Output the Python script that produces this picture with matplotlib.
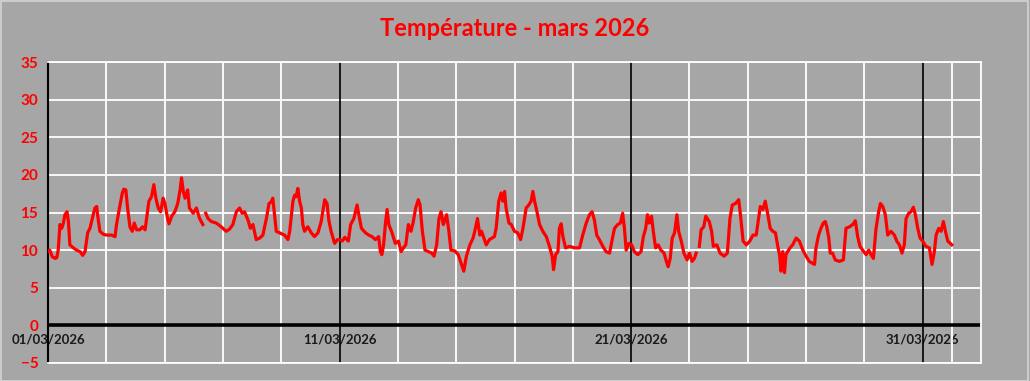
import matplotlib
matplotlib.use("Agg")
import matplotlib.pyplot as plt
import matplotlib.dates as mdates
import numpy as np
import pandas as pd
from matplotlib.patches import Rectangle

# ---- data ----
start_date = "2026-03-01"
end_date = "2026-04-02"
title = "Température - mars 2026"
label_dates = ["2026-03-01", "2026-03-11", "2026-03-21", "2026-03-31"]
y_ticks = [-5, 0, 5, 10, 15, 20, 25, 30, 35]

day_offset = [
    0.00, 0.06, 0.15, 0.25, 0.30, 0.35, 0.41, 0.47, 0.53, 0.58, 0.65, 0.70, 0.75, 0.87, 0.98,
    1.10, 1.19, 1.27, 1.36, 1.44, 1.55, 1.61, 1.67, 1.70, 1.78, 1.90, 2.01, 2.18, 2.30, 2.35,
    2.47, 2.55, 2.60, 2.67, 2.73, 2.81, 2.89, 2.96, 3.04, 3.15, 3.24, 3.33, 3.38, 3.46, 3.55,
    3.63, 3.70, 3.78, 3.86, 3.95, 4.01, 4.10, 4.15, 4.24, 4.35, 4.45, 4.53, 4.58, 4.64, 4.70,
    4.79, 4.85, 4.98, 5.09, 5.20, 5.31, 5.37, 5.41, 5.49, 5.60, 5.77, 5.94, 6.11, 6.23, 6.34,
    6.46, 6.57, 6.66, 6.74, 6.86, 6.94, 7.03, 7.14, 7.26, 7.37, 7.49, 7.58, 7.65, 7.71, 7.77,
    7.83, 7.94, 8.11, 8.23, 8.29, 8.40, 8.46, 8.51, 8.57, 8.63, 8.69, 8.74, 8.80, 8.91, 9.03,
    9.14, 9.26, 9.37, 9.49, 9.57, 9.63, 9.71, 9.83, 9.93, 10.00, 10.09, 10.18, 10.30, 10.38, 10.49,
    10.60, 10.66, 10.75, 10.89, 11.00, 11.11, 11.23, 11.34, 11.40, 11.45, 11.51, 11.57, 11.63, 11.69, 11.80,
    11.91, 12.02, 12.11, 12.19, 12.27, 12.36, 12.45, 12.53, 12.61, 12.70, 12.76, 12.84, 12.93, 13.05, 13.16,
    13.24, 13.33, 13.41, 13.48, 13.56, 13.67, 13.75, 13.82, 13.95, 14.07, 14.18, 14.26, 14.35, 14.47, 14.58,
    14.66, 14.73, 14.81, 14.87, 14.95, 15.03, 15.14, 15.31, 15.37, 15.46, 15.54, 15.60, 15.66, 15.71, 15.81,
    15.89, 16.00, 16.11, 16.21, 16.29, 16.40, 16.49, 16.57, 16.63, 16.69, 16.77, 16.86, 16.97, 17.09, 17.20,
    17.29, 17.34, 17.41, 17.49, 17.54, 17.60, 17.66, 17.75, 17.89, 18.06, 18.23, 18.34, 18.46, 18.57, 18.66,
    18.74, 18.82, 18.91, 19.03, 19.14, 19.26, 19.35, 19.43, 19.54, 19.63, 19.71, 19.77, 19.83, 19.93, 20.02,
    20.11, 20.23, 20.34, 20.42, 20.50, 20.56, 20.62, 20.70, 20.76, 20.84, 20.93, 21.02, 21.13, 21.21, 21.27,
    21.34, 21.41, 21.49, 21.57, 21.63, 21.72, 21.81, 21.92, 22.00, 22.09, 22.17, 22.23, 22.28, 22.34, 22.40,
    22.49, 22.56, 22.68, 22.76, 22.82, 22.94, 23.05, 23.19, 23.30, 23.39, 23.47, 23.58, 23.69, 23.75, 23.84,
    23.95, 24.07, 24.18, 24.29, 24.37, 24.43, 24.52, 24.60, 24.68, 24.77, 24.86, 24.95, 25.03, 25.09, 25.14,
    25.20, 25.26, 25.31, 25.37, 25.45, 25.54, 25.66, 25.77, 25.89, 26.00, 26.11, 26.29, 26.34, 26.43, 26.51,
    26.59, 26.66, 26.71, 26.78, 26.83, 26.91, 27.00, 27.14, 27.28, 27.37, 27.49, 27.60, 27.69, 27.77, 27.85,
    27.94, 28.06, 28.15, 28.23, 28.31, 28.40, 28.49, 28.55, 28.63, 28.72, 28.80, 28.91, 29.03, 29.11, 29.20,
    29.29, 29.37, 29.43, 29.52, 29.60, 29.68, 29.75, 29.83, 29.91, 30.00, 30.11, 30.23, 30.32, 30.40, 30.46,
    30.55, 30.63, 30.71, 30.78, 30.86, 31.00,
]

temp_c = [
    9.8, 10.0, 9.1, 8.9, 9.0, 10.0, 13.4, 12.9, 13.6, 14.7, 15.1, 13.8, 10.7, 10.3, 10.0,
    9.8, 9.3, 9.8, 12.3, 12.9, 14.7, 15.6, 15.8, 14.7, 12.5, 12.1, 12.0, 12.0, 11.8, 13.4,
    16.0, 17.6, 18.1, 18.0, 15.6, 13.1, 12.5, 13.6, 12.7, 12.7, 13.1, 12.7, 14.2, 16.5, 17.1,
    18.7, 16.9, 15.6, 15.1, 16.9, 16.2, 14.2, 13.5, 14.5, 15.1, 16.2, 18.0, 19.6, 17.8, 16.9,
    18.0, 15.6, 14.9, 15.6, 14.2, 13.4, np.nan, 14.9, 14.2, 13.8, 13.6, 13.1, 12.5, 12.8, 13.4,
    15.1, 15.6, 14.9, 15.1, 14.0, 12.9, 13.4, 11.4, 11.6, 12.0, 14.2, 16.2, 16.4, 16.9, 14.7,
    12.5, 12.3, 12.0, 11.4, 12.5, 16.5, 17.3, 17.1, 18.2, 16.5, 15.6, 13.4, 12.5, 13.1, 12.3,
    11.8, 12.3, 13.8, 16.7, 16.2, 14.0, 12.5, 10.9, 11.4, 11.4, 11.2, 11.7, 11.2, 13.4, 14.2,
    16.0, 14.7, 12.9, 12.3, 12.0, 11.8, 11.4, 11.8, 9.8, 9.4, 10.7, 13.4, 15.4, 13.4, 12.3,
    10.9, 11.2, 9.8, 10.3, 10.7, 13.4, 12.5, 13.8, 15.6, 16.7, 16.0, 12.5, 10.0, 9.8, 9.6,
    9.2, 10.7, 14.2, 15.1, 13.4, 14.7, 12.5, 10.0, 9.9, 9.4, 8.1, 7.2, 9.2, 10.7, 11.6,
    12.9, 14.2, 12.0, 12.5, 11.6, 10.7, 11.4, 11.8, 12.9, 16.5, 17.6, 16.5, 17.8, 15.6, 13.6,
    13.4, 12.5, 12.3, 11.4, 12.9, 15.6, 16.0, 16.5, 17.8, 16.5, 15.1, 13.4, 12.5, 11.8, 10.5,
    9.2, 7.4, 9.4, 9.8, 12.9, 13.5, 11.8, 10.3, 10.5, 10.3, 10.3, 12.0, 13.6, 14.7, 15.1,
    14.0, 12.0, 11.4, 10.5, 9.8, 9.6, 11.4, 12.9, 13.4, 13.6, 14.9, 12.9, 10.0, 10.9, 10.7,
    9.8, 9.4, 9.8, 11.8, 12.9, 14.7, 13.6, 14.5, 12.5, 10.3, 10.7, 10.0, 9.6, 8.5, 7.8,
    8.9, 11.6, 12.3, 14.7, 12.5, 11.2, 9.6, 8.7, 9.6, 8.5, 8.9, 9.6, np.nan, 10.5, 12.7,
    13.1, 14.5, 13.8, 12.5, 10.5, 10.7, 9.6, 9.2, 9.6, 14.2, 16.0, 16.2, 16.7, 14.7, 11.2,
    10.7, 11.2, 12.0, 12.0, 14.2, 15.8, 15.4, 16.5, 14.9, 12.9, 12.5, 12.3, 10.5, 9.4, 7.2,
    9.8, 7.0, 9.4, 9.8, 10.3, 10.7, 11.6, 11.2, 10.0, 9.2, 8.5, 8.1, 10.3, 12.0, 12.9,
    13.6, 13.8, 13.1, 11.6, 9.6, 9.6, 8.7, 8.5, 8.7, 12.9, 13.1, 13.4, 13.9, 11.8, 10.5,
    10.0, 9.4, 10.0, 9.4, 8.9, 12.9, 15.1, 16.2, 15.8, 14.7, 12.0, 12.5, 12.0, 11.2, 10.7,
    9.6, 10.7, 14.2, 14.9, 15.1, 15.7, 14.7, 12.9, 11.6, 11.2, 10.5, 10.3, 8.1, 9.8, 12.0,
    12.9, 12.5, 13.8, 12.5, 11.2, 10.7,
]

# ---- styling ----
BG = "#A6A6A6"
RED = "#FF0000"
FONT = ["Lato", "DejaVu Sans"]
plt.rcParams["font.family"] = FONT

times = pd.Timestamp(start_date) + pd.to_timedelta(day_offset, unit="D")

fig = plt.figure(figsize=(10.30, 3.81), dpi=100, facecolor=BG)
ax = fig.add_axes([48 / 1030, 1 - 363 / 381, (981 - 48) / 1030, (363 - 62) / 381])
ax.set_facecolor(BG)

# light border round the figure
fig.patches.append(Rectangle((0.0005, 0.001), 0.998, 0.997, transform=fig.transFigure,
                             fill=False, edgecolor="#D4D4D4", linewidth=1.2))

ax.set_xlim(pd.Timestamp(start_date), pd.Timestamp(end_date))
ax.set_ylim(min(y_ticks), max(y_ticks))

# white grid: every 5 degrees, every 2 days
ax.set_yticks(y_ticks)
ax.xaxis.set_minor_locator(mdates.DayLocator(bymonthday=range(1, 32, 2)))
ax.grid(which="major", axis="y", color="white", linewidth=1.3, zorder=0)
ax.grid(which="minor", axis="x", color="white", linewidth=1.3, zorder=0)

# black vertical lines at labelled dates
lab_dt = pd.to_datetime(label_dates)
ax.set_xticks(lab_dt)
ax.set_xticklabels([d.strftime("%d/%m/%Y") for d in lab_dt])
for d in lab_dt:
    ax.axvline(d, color="black", linewidth=1.2, zorder=2)
ax.axhline(0, color="black", linewidth=2.6, zorder=2)

for s in ["top", "right", "bottom"]:
    ax.spines[s].set_color("white")
    ax.spines[s].set_linewidth(1.3)
ax.spines["left"].set_color("black")
ax.spines["left"].set_linewidth(1.5)

ax.plot(times, temp_c, color=RED, linewidth=2.3, zorder=3, solid_joinstyle="round")

ax.tick_params(axis="y", length=0, pad=7, labelcolor=RED, labelsize=11)
for t in ax.get_yticklabels():
    t.set_fontweight("bold")
ax.tick_params(axis="x", which="both", length=0, pad=-21, labelsize=9.5)
for t in ax.get_xticklabels():
    t.set_fontweight("bold")
    t.set_color("#1A1A1A")

fig.text(0.5, 1 - 28 / 381, title, ha="center", va="center", color=RED,
         fontsize=17, fontweight="bold")

fig.savefig("out.png", dpi=100, facecolor=BG)
